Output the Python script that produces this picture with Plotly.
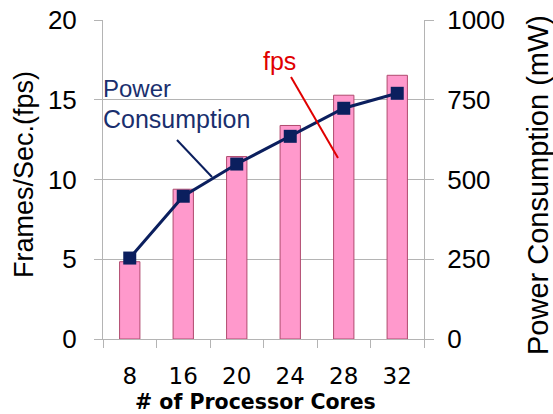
import plotly.graph_objects as go

cores = ["8", "16", "20", "24", "28", "32"]
fps = [4.85, 9.4, 11.45, 13.4, 15.3, 16.55]
power_mw = [254, 448, 549, 636, 724, 771]
fps_ticks = [0, 5, 10, 15, 20]
power_ticks = [0, 250, 500, 750, 1000]

W, H = 553, 414
L, R, T, B = 103, 424, 20, 339

def px(x):
    return (x - L) / (R - L)

def py(y):
    return (B - y) / (B - T)

fig = go.Figure()
fig.add_trace(go.Bar(
    x=cores, y=fps, width=0.38,
    marker=dict(color="#ff99cc", line=dict(color="#b04a6e", width=1)),
    yaxis="y", showlegend=False,
))
fig.add_trace(go.Scatter(
    x=cores, y=power_mw, mode="lines+markers",
    line=dict(color="#0b1f5e", width=3),
    marker=dict(symbol="square", size=13, color="#0b1f5e"),
    yaxis="y2", showlegend=False,
))

grid = "#b4b4b4"
fig.update_layout(
    width=W, height=H,
    margin=dict(l=L, r=W - R, t=T, b=H - B, autoexpand=False),
    plot_bgcolor="white", paper_bgcolor="white",
    xaxis=dict(
        type="category", tickson="boundaries", ticks="outside", ticklen=8,
        tickcolor=grid, showline=True, linecolor=grid, linewidth=1,
        showgrid=False, tickfont=dict(family="DejaVu Sans", size=23, color="black"),
        ticklabelstandoff=16,
    ),
    yaxis=dict(
        range=[0, 20.02], tickvals=fps_ticks, ticks="outside", ticklen=8,
        tickcolor=grid, showline=True, linecolor=grid, gridcolor=grid,
        showgrid=True, zeroline=False,
        tickfont=dict(family="Liberation Sans", size=26, color="black"),
        ticklabelstandoff=12,
    ),
    yaxis2=dict(
        range=[0, 1001], tickvals=power_ticks, overlaying="y", side="right",
        ticks="outside", ticklen=9, tickcolor=grid, showline=True,
        linecolor=grid, showgrid=False, zeroline=False,
        tickfont=dict(family="Liberation Sans", size=26, color="black"),
        ticklabelstandoff=8,
    ),
)

ann = [
    dict(text="Frames/Sec.(fps)", x=px(24), y=py(175), textangle=-90,
         font=dict(family="Liberation Sans", size=27, color="black")),
    dict(text="Power Consumption (mW)", x=px(538), y=py(185), textangle=-90,
         font=dict(family="Liberation Sans", size=29, color="black")),
    dict(text="<b># of Processor Cores</b>", x=px(133), y=py(402), xanchor="left",
         font=dict(family="DejaVu Sans", size=20.5, color="black")),
    dict(text="Power", x=px(101), y=py(88), xanchor="left",
         font=dict(family="Liberation Sans", size=24, color="#1a2f6e")),
    dict(text="Consumption", x=px(101), y=py(119), xanchor="left",
         font=dict(family="Liberation Sans", size=25, color="#1a2f6e")),
    dict(text="fps", x=px(279), y=py(61),
         font=dict(family="Liberation Sans", size=25, color="#e00000")),
]
for a in ann:
    a.update(xref="paper", yref="paper", showarrow=False)
    a.setdefault("xanchor", "center")
    a.setdefault("yanchor", "middle")
fig.update_layout(annotations=ann)

fig.add_shape(type="line", xref="paper", yref="paper",
              x0=px(177), y0=py(140), x1=px(212), y1=py(177),
              line=dict(color="#0b1f5e", width=2))
fig.add_shape(type="line", xref="paper", yref="paper",
              x0=px(291), y0=py(77), x1=px(338), y1=py(158),
              line=dict(color="#e00000", width=2))

fig.write_html(
    "out.html",
    config={"displayModeBar": False},
    post_script="document.body.style.margin='0';document.body.style.overflow='hidden';",
)
